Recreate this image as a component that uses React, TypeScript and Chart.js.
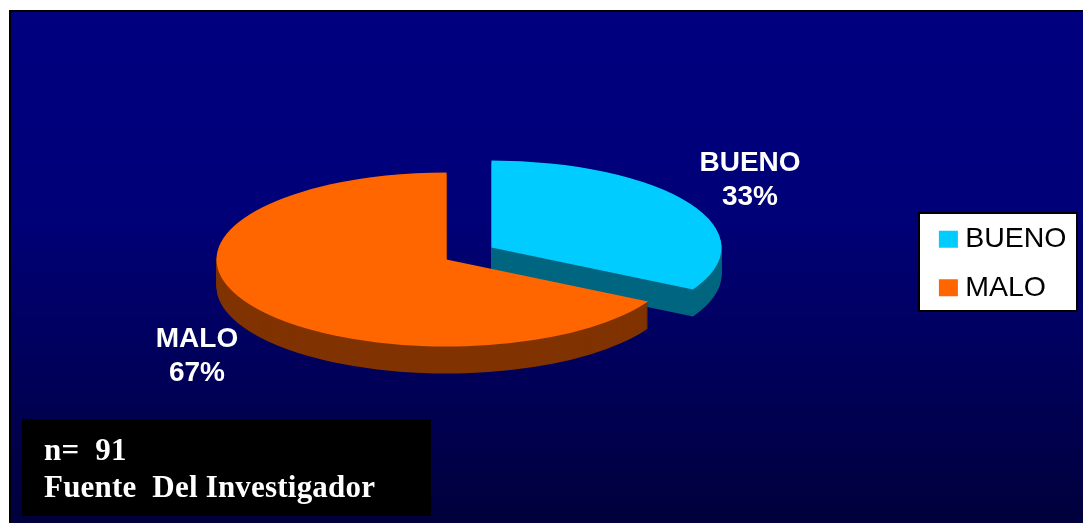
import React, { useEffect, useRef } from "react";
import { Chart, registerables } from "chart.js";

Chart.register(...registerables);

const categories = ["BUENO", "MALO"];
const percentages = [33, 67];
const sliceColors = ["#00CCFF", "#FF6600"];
const wallColors = ["#006680", "#803300"];
const noteLines = ["n=  91", "Fuente  Del Investigador"];

const RX = 230;
const RY = 87;
const DEPTH = 27;
const sliceCenters = [
  { x: 491.5, y: 247.5 },
  { x: 446.5, y: 259.5 },
];
const labelCenters = [
  { x: 750, y: 163 },
  { x: 197, y: 339 },
];

const scenePlugin = {
  id: "scene",
  beforeDraw(chart: any) {
    const { ctx, width, height } = chart;
    ctx.save();
    ctx.fillStyle = "#ffffff";
    ctx.fillRect(0, 0, width, height);
    ctx.fillStyle = "#000000";
    ctx.fillRect(9, 10, width - 9, height - 10);
    const g = ctx.createLinearGradient(0, 12, 0, height);
    g.addColorStop(0, "#000080");
    g.addColorStop(0.4, "#000078");
    g.addColorStop(1, "#00003C");
    ctx.fillStyle = g;
    ctx.fillRect(11, 12, width - 11, height - 12);

    // legend frame
    ctx.fillStyle = "#000000";
    ctx.fillRect(918, 212, 160, 100);
    ctx.fillStyle = "#ffffff";
    ctx.fillRect(920, 214, 156, 96);

    // note box
    ctx.fillStyle = "#000000";
    ctx.fillRect(22, 419, 409, 97);
    ctx.restore();
  },
  beforeDatasetsDraw(chart: any) {
    const { ctx } = chart;
    const arcs = chart.getDatasetMeta(0).data;
    const place = (arc: any, i: number, drop: number) => {
      const sx = RX / arc.outerRadius;
      const sy = RY / arc.outerRadius;
      const c = sliceCenters[i];
      ctx.setTransform(sx, 0, 0, sy, c.x - arc.x * sx, c.y + drop - arc.y * sy);
    };
    ctx.save();
    arcs.forEach((arc: any, i: number) => {
      const wall = Object.create(arc);
      wall.options = { ...arc.options, backgroundColor: wallColors[i] };
      for (let d = DEPTH; d >= 1; d--) {
        place(arc, i, d);
        arc.draw.call(wall, ctx);
      }
    });
    arcs.forEach((arc: any, i: number) => {
      place(arc, i, 0);
      arc.draw(ctx);
    });
    ctx.restore();
    return false;
  },
  afterDraw(chart: any) {
    const { ctx } = chart;
    ctx.save();
    ctx.textAlign = "center";
    ctx.textBaseline = "middle";
    ctx.fillStyle = "#ffffff";
    ctx.font = "bold 28px 'Liberation Sans'";
    categories.forEach((name, i) => {
      ctx.fillText(name, labelCenters[i].x, labelCenters[i].y);
      ctx.fillText(`${percentages[i]}%`, labelCenters[i].x, labelCenters[i].y + 34);
    });
    ctx.textAlign = "left";
    ctx.textBaseline = "alphabetic";
    ctx.font = "bold 31px 'Liberation Serif'";
    (ctx as any).letterSpacing = "0.2px";
    ctx.fillText(noteLines[0], 44, 460);
    ctx.fillText(noteLines[1], 44, 497);
    ctx.restore();
  },
};

export default function App() {
  const ref = useRef<HTMLCanvasElement>(null);
  useEffect(() => {
    document.body.style.margin = "0";
    document.body.style.background = "#ffffff";
    const chart = new Chart(ref.current!, {
      type: "pie",
      data: {
        labels: categories,
        datasets: [
          {
            data: percentages,
            backgroundColor: sliceColors,
            borderWidth: 0,
          },
        ],
      },
      options: {
        responsive: false,
        animation: false,
        layout: { padding: { right: 6.5, top: 4 } },
        plugins: {
          tooltip: { enabled: false },
          legend: {
            position: "right",
            labels: {
              color: "#000000",
              font: { family: "'Liberation Sans'", size: 28.5 },
              boxWidth: 5,
              boxHeight: 3,
              padding: 20,
              generateLabels(c: any) {
                const base = Chart.overrides.pie.plugins.legend.labels.generateLabels(c);
                return base.map((item: any) => ({
                  ...item,
                  strokeStyle: item.fillStyle,
                  lineWidth: 14,
                  lineJoin: "miter",
                }));
              },
            },
          },
        },
      },
      plugins: [scenePlugin],
    } as any);
    return () => chart.destroy();
  }, []);
  return <canvas ref={ref} width={1083} height={523} style={{ display: "block" }} />;
}
